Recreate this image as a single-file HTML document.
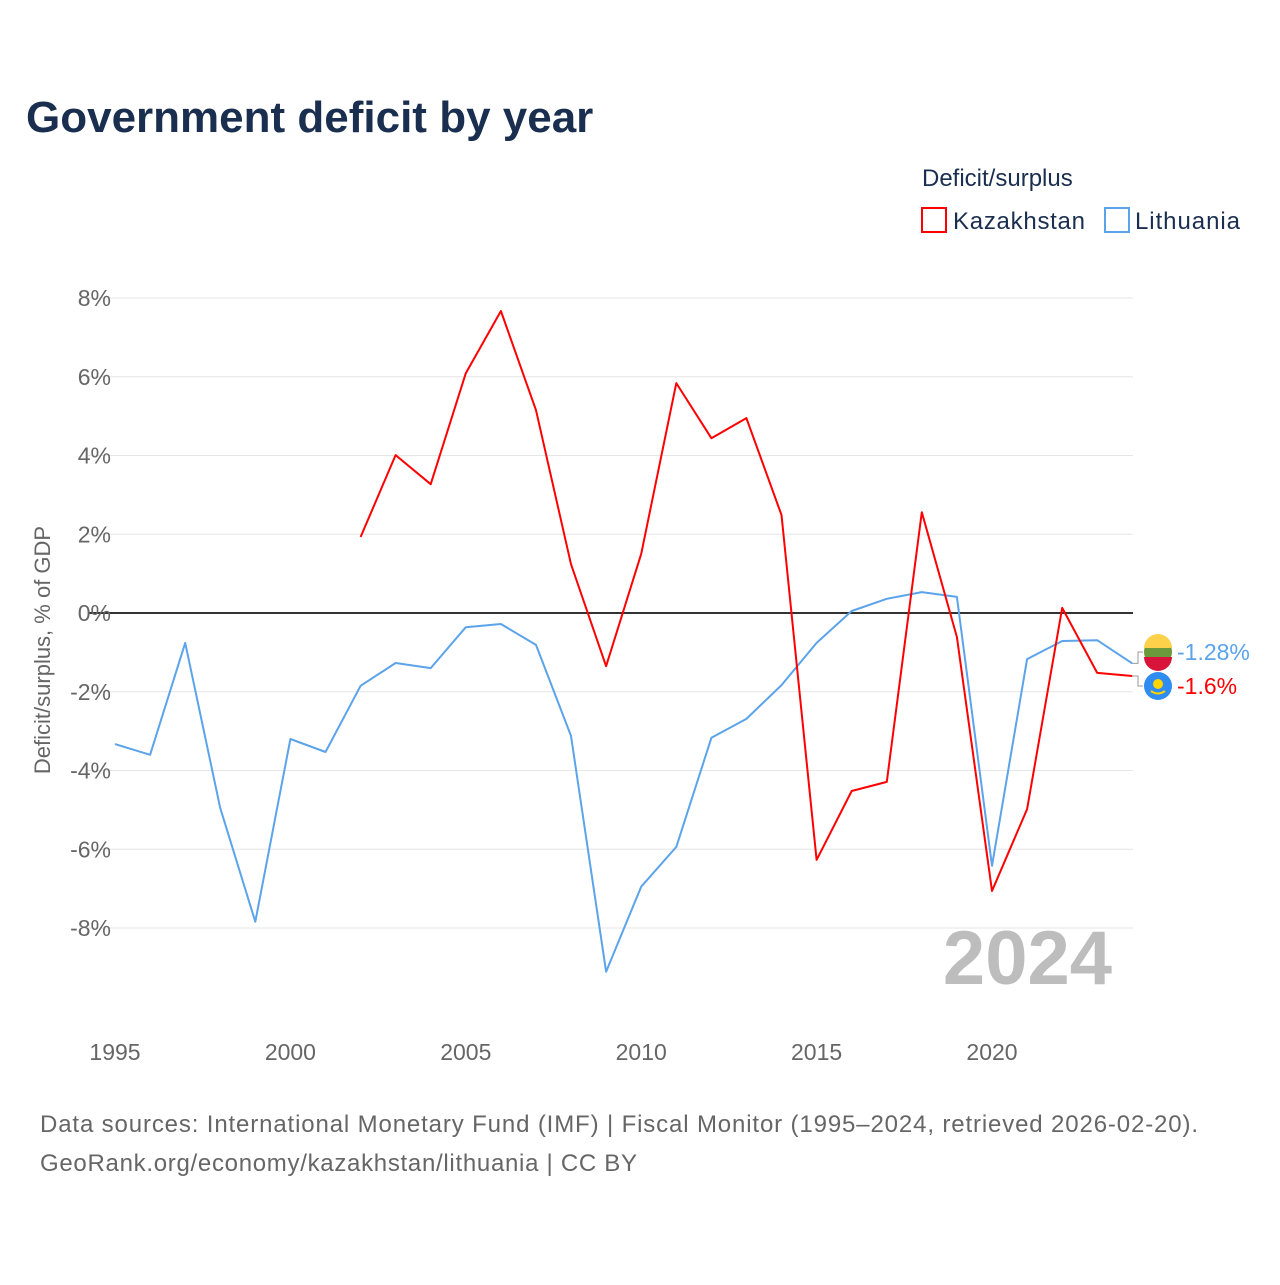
<!DOCTYPE html>
<html><head><meta charset="utf-8"><style>
body{margin:0;background:#fff;font-family:"Liberation Sans",sans-serif;}
svg text{font-family:"Liberation Sans",sans-serif;}
</style></head><body>
<svg id="c" width="1280" height="1280" xmlns="http://www.w3.org/2000/svg">
<text x="26" y="132" font-size="44" font-weight="bold" fill="#1a2e4f">Government deficit by year</text>
<text x="922" y="186" font-size="24" fill="#1a2e4f">Deficit/surplus</text>
<g><rect x="922" y="208" width="24" height="24" fill="none" stroke="#ff0000" stroke-width="2"/><text x="953" y="229" font-size="24" fill="#1a2e4f" textLength="132">Kazakhstan</text></g>
<g><rect x="1105" y="208" width="24" height="24" fill="none" stroke="#5ba3ea" stroke-width="2"/><text x="1135" y="229" font-size="24" fill="#1a2e4f" textLength="105">Lithuania</text></g>
<text transform="translate(50,650) rotate(-90)" text-anchor="middle" font-size="22" fill="#666">Deficit/surplus, % of GDP</text>
<g id="grid"></g><g id="lines"></g>
<text x="1112" y="984" text-anchor="end" font-size="76" font-weight="bold" fill="#bdbdbd">2024</text>
<text x="40" y="1132" font-size="24" fill="#666" textLength="1158">Data sources: International Monetary Fund (IMF) | Fiscal Monitor (1995–2024, retrieved 2026-02-20).</text>
<text x="40" y="1171" font-size="24" fill="#666" textLength="597">GeoRank.org/economy/kazakhstan/lithuania | CC BY</text>
</svg>
<script>
const years=[];for(let y=1995;y<=2024;y++)years.push(y);
const lithuania=[-3.33,-3.6,-0.76,-4.95,-7.84,-3.2,-3.53,-1.85,-1.27,-1.4,-0.36,-0.28,-0.81,-3.12,-9.11,-6.95,-5.94,-3.17,-2.69,-1.83,-0.76,0.05,0.36,0.53,0.41,-6.42,-1.17,-0.71,-0.69,-1.28];
const kazakhstan=[null,null,null,null,null,null,null,1.93,4.01,3.27,6.09,7.67,5.15,1.24,-1.35,1.5,5.84,4.44,4.95,2.49,-6.27,-4.52,-4.29,2.56,-0.61,-7.06,-4.98,0.13,-1.52,-1.6];
const yTicks=[8,6,4,2,0,-2,-4,-6,-8];
const xTicks=[1995,2000,2005,2010,2015,2020];
const X=y=>115+(y-1995)*35.08;
const Y=v=>613-v*39.375;
const NS="http://www.w3.org/2000/svg";
function mk(t,a,p){const e=document.createElementNS(NS,t);for(const k in a)e.setAttribute(k,a[k]);p.appendChild(e);return e;}
const g=document.getElementById('grid'),L=document.getElementById('lines');
yTicks.forEach(v=>{
 const l=mk('line',{x1:88,x2:1133,y1:Y(v),y2:Y(v),stroke:v===0?'#333':'#e6e6e6','stroke-width':v===0?2:1},g);
 
 
 const t=mk('text',{x:111,y:Y(v)+8,'text-anchor':'end','font-size':23,fill:'#666'},g);t.textContent=v+'%';
 
 
});
xTicks.forEach(yr=>{
 const t=mk('text',{x:X(yr),y:1060,'text-anchor':'middle','font-size':23,fill:'#666'},g);t.textContent=yr;
 
 
});
function path(data,color,name){
 let d='';data.forEach((v,i)=>{if(v===null)return;d+=(d?'L':'M')+X(years[i]).toFixed(1)+','+Y(v).toFixed(1);});
 const p=mk('path',{d:d,fill:'none',stroke:color,'stroke-width':2,'stroke-linejoin':'round'},L);
 
 
}
path(lithuania,'#5ba3ea','line-lithuania');
path(kazakhstan,'#ff0000','line-kazakhstan');
function endLabel(v,ly,color,txt,name,flag){
 const ex=X(2024),ey=Y(v);
 mk('path',{d:`M${ex},${ey}H1138V${ly}H1143`,fill:'none',stroke:'#999','stroke-width':1},L);
 const fg=mk('g',{},L);
 
 
 if(flag==='lt'){mk('circle',{cx:1158,cy:ly,r:14,fill:'#6a9a3c'},fg);mk('path',{d:`M1144,${ly-4}A14,14 0 0 1 1172,${ly-4}Z`,fill:'#fdd24a'},fg);mk('path',{d:`M1144,${ly+5}A14,14 0 0 0 1172,${ly+5}Z`,fill:'#d8143a'},fg);}
 else{mk('circle',{cx:1158,cy:ly,r:14,fill:'#2f8cf0'},fg);mk('circle',{cx:1158,cy:ly-2,r:5,fill:'#ffd400'},fg);mk('path',{d:`M1151,${ly+5}Q1158,${ly+10} 1165,${ly+5}`,stroke:'#ffd400','stroke-width':2,fill:'none'},fg);}
 const t=mk('text',{x:1177,y:ly+8,'font-size':23,fill:color},L);t.textContent=txt;
 
 
}
endLabel(lithuania[29],652,'#5ba3ea','-1.28%','lithuania','lt');
endLabel(kazakhstan[29],686,'#ff0000','-1.6%','kazakhstan','kz');
</script>
</body></html>
